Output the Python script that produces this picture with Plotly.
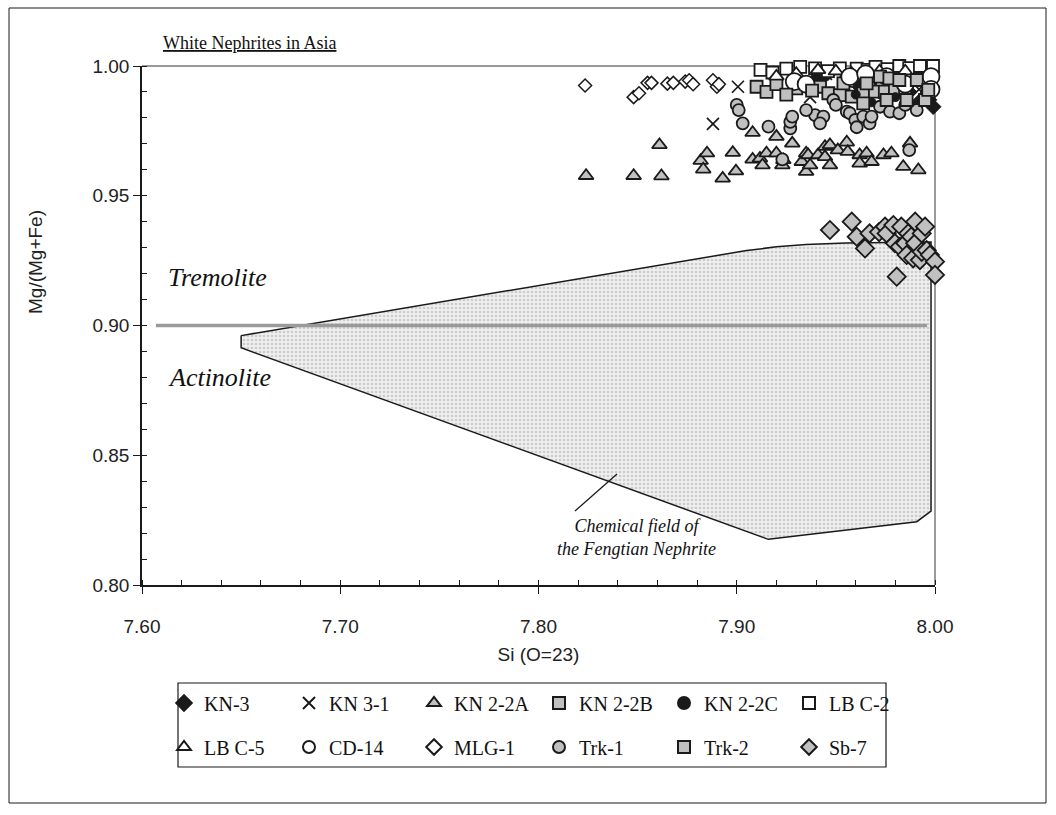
import plotly.graph_objects as go

# ---------------- data ----------------
kn3_x = [7.9285, 7.940, 7.962, 7.975, 7.987, 7.993, 7.997, 7.9991]
kn3_y = [0.9946, 0.9950, 0.9920, 0.9880, 0.9900, 0.9869, 0.9870, 0.9843]

kn31_x = [7.888, 7.9006, 7.930, 7.937, 7.945, 7.955, 7.970, 7.985, 7.992]
kn31_y = [0.9777, 0.9920, 0.9960, 0.9880, 0.9970, 0.9940, 0.9930, 0.9960, 0.9910]

kn22a_x = [7.824, 7.848, 7.861, 7.862, 7.8818, 7.8831, 7.885, 7.898, 7.8929, 7.8996,
           7.908, 7.908, 7.9117, 7.913, 7.915, 7.920, 7.920, 7.9235, 7.923, 7.928,
           7.9328, 7.935, 7.935, 7.936, 7.937, 7.941, 7.9445, 7.9445, 7.947, 7.947,
           7.951, 7.9555, 7.956, 7.962, 7.962, 7.9655, 7.968, 7.974, 7.978, 7.984,
           7.9874, 7.9916]
kn22a_y = [0.9577, 0.9577, 0.9696, 0.9576, 0.9635, 0.9602, 0.9664, 0.9666, 0.9567, 0.9595,
           0.9743, 0.9640, 0.9644, 0.9618, 0.9664, 0.9728, 0.9664, 0.9638, 0.9618, 0.9702,
           0.9631, 0.9664, 0.9593, 0.9657, 0.9618, 0.9657, 0.9689, 0.9650, 0.9696, 0.9618,
           0.9676, 0.9706, 0.9670, 0.9657, 0.9625, 0.9664, 0.9631, 0.9657, 0.9664, 0.9612,
           0.9702, 0.9599]

kn22b_x = [7.910, 7.915, 7.920, 7.930, 7.942, 7.9462, 7.952, 7.958, 7.9538, 7.9638,
           7.9697, 7.9747, 7.9798, 7.9849]
kn22b_y = [0.9920, 0.9900, 0.9930, 0.9914, 0.9920, 0.9895, 0.9888, 0.9882, 0.9933, 0.9895,
           0.9901, 0.9901, 0.9908, 0.9908]

kn22c_x = [7.945, 7.960, 7.968, 7.980, 7.990, 7.995]
kn22c_y = [0.9960, 0.9890, 0.9860, 0.9880, 0.9850, 0.9900]

lbc2_x = [7.912, 7.918, 7.925, 7.932, 7.9395, 7.946, 7.952, 7.9605, 7.966, 7.970,
          7.976, 7.982, 7.987, 7.9924, 7.999]
lbc2_y = [0.9985, 0.9975, 0.9990, 0.9997, 0.9991, 0.9980, 0.9991, 0.9990, 0.9985, 0.9997,
          0.9988, 1.0000, 0.9992, 1.0000, 1.0000]

lbc5_x = [7.920, 7.930, 7.941, 7.950, 7.958, 7.972, 7.985]
lbc5_y = [0.9960, 0.9970, 0.9985, 0.9980, 0.9970, 0.9980, 0.9980]

cd14_x = [7.929, 7.935, 7.957, 7.965, 7.9756, 7.985, 7.998, 7.998]
cd14_y = [0.9940, 0.9930, 0.9959, 0.9970, 0.9959, 0.9930, 0.9959, 0.9910]

mlg1_x = [7.8235, 7.848, 7.8507, 7.855, 7.857, 7.865, 7.868, 7.874, 7.876, 7.878,
          7.888, 7.890, 7.891]
mlg1_y = [0.9925, 0.9880, 0.9895, 0.9935, 0.9935, 0.9932, 0.9935, 0.9940, 0.9945, 0.9930,
          0.9945, 0.9920, 0.9930]

trk1_x = [7.900, 7.901, 7.903, 7.916, 7.927, 7.927, 7.928, 7.923, 7.9395, 7.9437,
          7.942, 7.9487, 7.950, 7.9555, 7.957, 7.9598, 7.9605, 7.9638, 7.967, 7.968,
          7.9723, 7.9773, 7.982, 7.9908, 7.987, 7.935, 7.985]
trk1_y = [0.9850, 0.9830, 0.9779, 0.9766, 0.9760, 0.9785, 0.9805, 0.9640, 0.9811, 0.9805,
          0.9779, 0.9869, 0.9850, 0.9824, 0.9818, 0.9792, 0.9764, 0.9805, 0.9779, 0.9805,
          0.9843, 0.9824, 0.9818, 0.9830, 0.9676, 0.9830, 0.9850]

trk2_x = [7.925, 7.938, 7.9638, 7.9655, 7.9723, 7.9756, 7.977, 7.982, 7.9857, 7.9908,
          7.995, 7.9966]
trk2_y = [0.9890, 0.9905, 0.9856, 0.9933, 0.9959, 0.9869, 0.9952, 0.9946, 0.9869, 0.9946,
          0.9869, 0.9908]

sb7_x = [7.947, 7.958, 7.9605, 7.9647, 7.967, 7.9718, 7.9748, 7.9756, 7.979, 7.9798,
         7.9807, 7.983, 7.9823, 7.985, 7.9857, 7.9865, 7.988, 7.989, 7.990, 7.990,
         7.9924, 7.9933, 7.9933, 7.995, 7.9958, 7.9974, 8.000, 8.000]
sb7_y = [0.9368, 0.9400, 0.9342, 0.9297, 0.9355, 0.9360, 0.9381, 0.9355, 0.9387, 0.9317,
         0.9188, 0.9381, 0.9303, 0.9317, 0.9272, 0.9355, 0.9342, 0.9259, 0.9400, 0.9317,
         0.9252, 0.9355, 0.9284, 0.9381, 0.9290, 0.9272, 0.9246, 0.9195]

# Chemical field of the Fengtian nephrite (polygon outline)
field_x = [7.650, 7.800, 7.890, 7.905, 7.920, 7.935, 7.955, 7.998, 7.998, 7.9908, 7.9159, 7.650, 7.650]
field_y = [0.8961, 0.9155, 0.9272, 0.9289, 0.9303, 0.9312, 0.9318, 0.9322, 0.8285, 0.8244, 0.8176, 0.8914, 0.8961]

# tremolite / actinolite boundary
boundary_x = [7.607, 7.996]
boundary_y = [0.90, 0.90]

# leader line for the field label
leader_x = [7.8184, 7.8396]
leader_y = [0.8285, 0.8428]

x_ticks = [7.60, 7.70, 7.80, 7.90, 8.00]
y_ticks = [0.80, 0.85, 0.90, 0.95, 1.00]

# ---------------- styles ----------------
GRAY = "#c0c0c0"
EDGE = "#1a1a1a"
SERIF = "Liberation Serif"
SANS = "Liberation Sans"

series = [
    ("KN-3", kn3_x, kn3_y, dict(symbol="diamond", size=12, color=EDGE, line=dict(color=EDGE, width=1)), "legend"),
    ("KN 3-1", kn31_x, kn31_y, dict(symbol="x-thin", size=12, color=EDGE, line=dict(color=EDGE, width=1.7)), "legend"),
    ("KN 2-2A", kn22a_x, kn22a_y, dict(symbol="triangle-up", size=13, color=GRAY, line=dict(color=EDGE, width=1.8)), "legend"),
    ("KN 2-2B", kn22b_x, kn22b_y, dict(symbol="square", size=12, color=GRAY, line=dict(color=EDGE, width=1.8)), "legend"),
    ("KN 2-2C", kn22c_x, kn22c_y, dict(symbol="circle", size=9, color=EDGE, line=dict(color=EDGE, width=1)), "legend"),
    ("LB C-2", lbc2_x, lbc2_y, dict(symbol="square", size=12, color="white", line=dict(color=EDGE, width=1.8)), "legend"),
    ("LB C-5", lbc5_x, lbc5_y, dict(symbol="triangle-up", size=13, color="white", line=dict(color=EDGE, width=1.8)), "legend2"),
    ("CD-14", cd14_x, cd14_y, dict(symbol="circle", size=17, color="white", line=dict(color=EDGE, width=1.8)), "legend2"),
    ("MLG-1", mlg1_x, mlg1_y, dict(symbol="diamond", size=10, color="white", line=dict(color=EDGE, width=1.5)), "legend2"),
    ("Trk-1", trk1_x, trk1_y, dict(symbol="circle", size=12, color=GRAY, line=dict(color=EDGE, width=1.8)), "legend2"),
    ("Trk-2", trk2_x, trk2_y, dict(symbol="square", size=12, color=GRAY, line=dict(color=EDGE, width=1.8)), "legend2"),
    ("Sb-7", sb7_x, sb7_y, dict(symbol="diamond", size=14, color=GRAY, line=dict(color=EDGE, width=1.8)), "legend2"),
]

fig = go.Figure()

# chemical field polygon
fig.add_trace(go.Scatter(
    x=field_x, y=field_y, mode="lines", fill="toself",
    line=dict(color=EDGE, width=1.5),
    fillcolor="#ececec",
    fillpattern=dict(shape=".", fgcolor="#a8a8a8", bgcolor="#efefef", size=4, solidity=0.35),
    showlegend=False, hoverinfo="skip", cliponaxis=False,
))
# boundary line
fig.add_trace(go.Scatter(
    x=boundary_x, y=boundary_y, mode="lines",
    line=dict(color="#9a9a9a", width=3.5),
    showlegend=False, hoverinfo="skip",
))
# leader line
fig.add_trace(go.Scatter(
    x=leader_x, y=leader_y, mode="lines",
    line=dict(color=EDGE, width=1.3),
    showlegend=False, hoverinfo="skip",
))

for name, xs, ys, mk, lg in series:
    fig.add_trace(go.Scatter(
        x=xs, y=ys, mode="markers", name=name, marker=mk,
        legend=lg, cliponaxis=False,
    ))

L, R, T, B = 142, 121, 66, 230
W, H = 1056, 815
pw, ph = W - L - R, H - T - B


def px(xp):
    return (xp - L) / pw


def py(yp):
    return (H - B - yp) / ph


axis_font = dict(family=SANS, size=19, color="#222")
legend_style = dict(
    orientation="h", x=px(164), xanchor="left", yanchor="middle",
    entrywidth=80, entrywidthmode="pixels",
    font=dict(family=SERIF, size=20, color="#111"),
    bgcolor="rgba(0,0,0,0)", borderwidth=0, itemsizing="constant",
)

fig.update_layout(
    width=W, height=H,
    margin=dict(l=L, r=R, t=T, b=B, autoexpand=False),
    paper_bgcolor="white", plot_bgcolor="white",
    xaxis=dict(
        range=[7.6, 8.0], tickvals=x_ticks, tickformat=".2f",
        showline=True, linecolor=EDGE, linewidth=1.5,
        ticks="outside", ticklen=7, tickwidth=1.2, tickcolor=EDGE,
        minor=dict(dtick=0.02, tick0=7.6, ticks="inside", ticklen=5, tickwidth=1, tickcolor=EDGE),
        showgrid=False, zeroline=False, tickfont=axis_font,
        ticklabelstandoff=16,
        title=dict(text="Si (O=23)", font=axis_font, standoff=12),
        automargin=False,
    ),
    yaxis=dict(
        range=[0.8, 1.0], tickvals=y_ticks, tickformat=".2f",
        showline=True, linecolor=EDGE, linewidth=1.5,
        ticks="outside", ticklen=7, tickwidth=1.2, tickcolor=EDGE,
        minor=dict(dtick=0.01, tick0=0.8, ticks="inside", ticklen=5, tickwidth=1, tickcolor=EDGE),
        showgrid=False, zeroline=False, tickfont=axis_font,
        automargin=False,
    ),
    legend=dict(legend_style, y=py(703)),
    legend2=dict(legend_style, y=py(747)),
    showlegend=True,
)

# plot-area top and right border (gray)
fig.add_shape(type="line", xref="paper", yref="paper", x0=0, x1=1, y0=1, y1=1,
              line=dict(color="#9a9a9a", width=2), layer="below")
fig.add_shape(type="line", xref="paper", yref="paper", x0=1, x1=1, y0=0, y1=1,
              line=dict(color="#9a9a9a", width=2), layer="below")
# legend box
fig.add_shape(type="rect", xref="paper", yref="paper",
              x0=px(178), x1=px(886), y0=py(767), y1=py(683),
              line=dict(color=EDGE, width=1.2))
# chart frame
fig.add_shape(type="rect", xref="paper", yref="paper",
              x0=px(9), x1=px(1046), y0=py(803), y1=py(8),
              line=dict(color=EDGE, width=1))

# y-axis title
fig.add_annotation(xref="paper", yref="paper", x=px(35), y=py(262), xanchor="center", yanchor="middle",
                   text="Mg/(Mg+Fe)", textangle=-90, showarrow=False, font=axis_font)
# texts
fig.add_annotation(xref="paper", yref="paper", x=px(161), y=py(43), xanchor="left", yanchor="middle",
                   text="<u>White Nephrites in Asia</u>", showarrow=False,
                   font=dict(family=SERIF, size=18, color="#111"))
fig.add_annotation(xref="paper", yref="paper", x=px(166), y=py(277), xanchor="left", yanchor="middle",
                   text="<i>Tremolite</i>", showarrow=False,
                   font=dict(family=SERIF, size=26, color="#111"))
fig.add_annotation(xref="paper", yref="paper", x=px(166), y=py(377), xanchor="left", yanchor="middle",
                   text="<i>Actinolite</i>", showarrow=False,
                   font=dict(family=SERIF, size=26, color="#111"))
fig.add_annotation(xref="paper", yref="paper", x=px(636), y=py(537), xanchor="center", yanchor="middle",
                   text="<i>Chemical field of<br>the Fengtian Nephrite</i>", showarrow=False,
                   align="center", font=dict(family=SERIF, size=18, color="#111"))

fig.write_html("out.html")
